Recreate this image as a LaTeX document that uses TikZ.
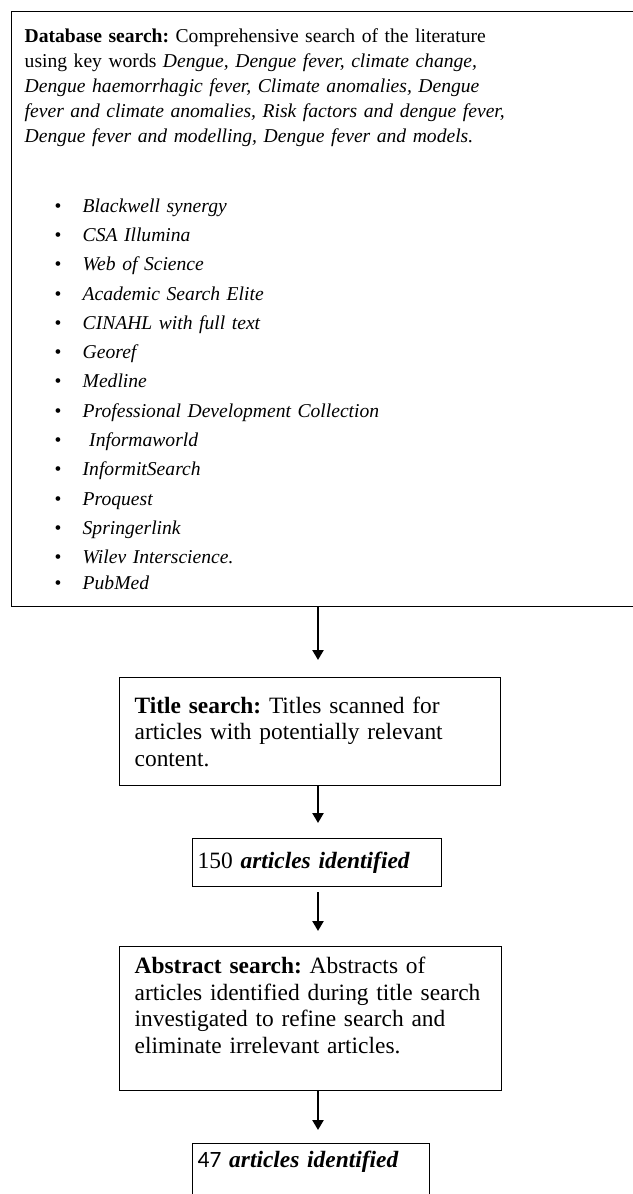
\documentclass[tikz,border=0pt]{standalone}
\usepackage{fontspec}
\setmainfont{Liberation Serif}
\newfontfamily\numfont{Carlito}
\usetikzlibrary{arrows.meta}
\frenchspacing

\newcommand{\dbitem}[1]{\makebox[58pt][l]{\hspace*{30pt}\textbullet}\textit{#1}}

\begin{document}
\begin{tikzpicture}[x=1pt,y=1pt,
  box/.style={draw,line width=1.4pt,anchor=north west,align=left,inner ysep=0pt},
  flow/.style={line width=2.4pt,-{Triangle[length=10pt,width=11pt]}}]
\useasboundingbox (0,0) rectangle (632,-1194);
\coordinate (axis) at (318,0);
% search boxes
\node[box,minimum width=629pt,minimum height=595pt,text width=603pt,inner xsep=12pt,
  font=\fontsize{19.6}{25}\selectfont] (dbase) at (11,-11) {%
  \textbf{Database search:} Comprehensive search of the literature\\
  using key words \textit{Dengue, Dengue fever, climate change,}\\
  \textit{Dengue haemorrhagic fever, Climate anomalies, Dengue}\\
  \textit{fever and climate anomalies, Risk factors and dengue fever,}\\
  \textit{Dengue fever and modelling, Dengue fever and models.}\\[45pt]
  \dbitem{Blackwell synergy}\\[4.3pt]
  \dbitem{CSA Illumina}\\[4.3pt]
  \dbitem{Web of Science}\\[4.3pt]
  \dbitem{Academic Search Elite}\\[4.3pt]
  \dbitem{CINAHL with full text}\\[4.3pt]
  \dbitem{Georef}\\[4.3pt]
  \dbitem{Medline}\\[4.3pt]
  \dbitem{Professional Development Collection}\\[4.3pt]
  \dbitem{\ Informaworld}\\[4.3pt]
  \dbitem{InformitSearch}\\[4.3pt]
  \dbitem{Proquest}\\[4.3pt]
  \dbitem{Springerlink}\\[4.3pt]
  \dbitem{Wilev Interscience.}\\[1pt]
  \dbitem{PubMed}};
\node[box,minimum width=379pt,minimum height=108pt,text width=351pt,inner xsep=15pt,
  font=\fontsize{23.4}{26.5}\selectfont] (title) at (119,-677) {%
  \textbf{Title search:} Titles scanned for\\
  articles with potentially relevant\\
  content.};
\node[box,minimum width=249pt,minimum height=48pt,text width=239pt,inner xsep=5pt,
  font=\fontsize{23.4}{26.5}\selectfont] (found1) at (192,-838) {%
  150 \textbf{\textit{articles identified}}};
\node[box,minimum width=380pt,minimum height=144pt,text width=352pt,inner xsep=15pt,
  font=\fontsize{23.4}{26.5}\selectfont] (abstract) at (119,-946) {%
  \textbf{Abstract search:} Abstracts of\\
  articles identified during title search\\
  investigated to refine search and\\
  eliminate irrelevant articles.\\ ~};
\node[box,minimum width=237pt,text width=227pt,inner xsep=5pt,inner ysep=9pt,
  text height=15pt,text depth=40pt,
  font=\fontsize{23.4}{26.5}\selectfont] (found2) at (192,-1143) {%
  {\numfont 47} \textbf{\textit{articles identified}}};
% arrows
\draw[flow] (dbase.south -| axis) -- ([yshift=17pt]title.north -| axis);
\draw[flow] (title.south -| axis) -- ([yshift=15pt]found1.north -| axis);
\draw[flow] ([yshift=-5pt]found1.south -| axis) -- ([yshift=15pt]abstract.north -| axis);
\draw[flow] (abstract.south -| axis) -- ([yshift=13pt]found2.north -| axis);
\end{tikzpicture}
\end{document}
